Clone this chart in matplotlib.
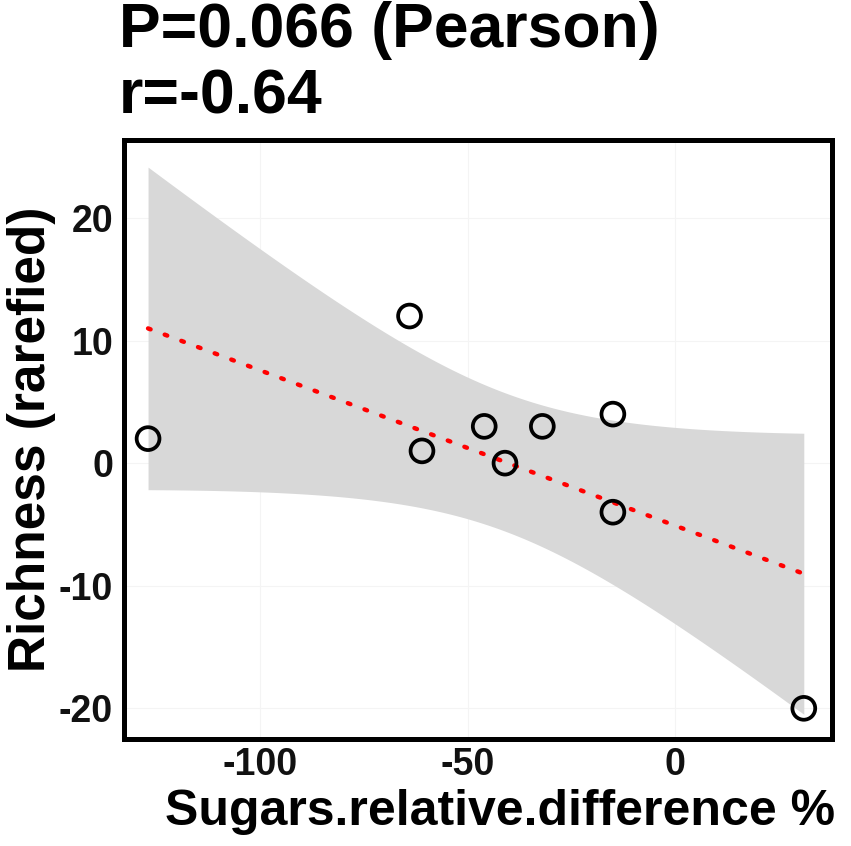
import numpy as np
import matplotlib
matplotlib.use("Agg")
import matplotlib.pyplot as plt

# ---- data ----
sugars_rel_diff = [-127, -64, -61, -46, -41, -32, -15, -15, 31]
richness = [2, 12, 1, 3, 0, 3, 4, -4, -20]
x_ticks = [-100, -50, 0]
y_ticks = [-20, -10, 0, 10, 20]
title_lines = ["P=0.066 (Pearson)", "r=-0.64"]
x_label = "Sugars.relative.difference %"
y_label = "Richness (rarefied)"

plt.rcParams["font.family"] = ["Liberation Sans", "DejaVu Sans"]

x = np.array(sugars_rel_diff, float)
y = np.array(richness, float)
n = len(x)
slope, intercept = np.polyfit(x, y, 1)
xs = np.linspace(x.min(), x.max(), 200)
yhat = intercept + slope * xs
resid = y - (intercept + slope * x)
s = np.sqrt(np.sum(resid ** 2) / (n - 2))
t_crit = 2.364624  # t(0.975, df=7)
se = s * np.sqrt(1 / n + (xs - x.mean()) ** 2 / np.sum((x - x.mean()) ** 2))

fig = plt.figure(figsize=(8.51, 8.46), dpi=100)
ax = fig.add_axes([0.1457, 0.1265, 0.832, 0.7086])

ax.fill_between(xs, yhat - t_crit * se, yhat + t_crit * se, color="#d8d8d8", lw=0, zorder=1)
ax.plot(xs, yhat, color="red", lw=3.2, linestyle=(0, (0.6, 3.4)), dash_capstyle="round", zorder=2)
ax.scatter(x, y, s=270, facecolors="none", edgecolors="black", linewidths=2.7, zorder=3)

ax.set_xlim(-132.8, 37.8)
ax.set_ylim(-22.5, 26.4)
ax.set_xticks(x_ticks)
ax.set_yticks(y_ticks)
ax.set_xticklabels([str(v) for v in x_ticks])
ax.set_yticklabels([str(v) for v in y_ticks])
ax.tick_params(length=0, labelsize=27, labelcolor="#111111")
ax.tick_params(axis="y", pad=8)
ax.tick_params(axis="x", pad=6)
for lab in ax.get_xticklabels() + ax.get_yticklabels():
    lab.set_fontweight("bold")
ax.grid(True, color="#f4f4f4", lw=0.8)
ax.set_axisbelow(True)
for sp in ax.spines.values():
    sp.set_linewidth(3.6)
    sp.set_color("black")

ax.set_xlabel(x_label, fontsize=36, fontweight="bold", labelpad=4, ha="right", x=1.005)
ax.set_ylabel(y_label, fontsize=37, fontweight="bold", labelpad=2)
fig.text(0.14, 0.9445, title_lines[0], fontsize=45, fontweight="bold", ha="left", va="baseline")
fig.text(0.14, 0.866, title_lines[1], fontsize=45, fontweight="bold", ha="left", va="baseline")

fig.savefig("out.png", dpi=100)
